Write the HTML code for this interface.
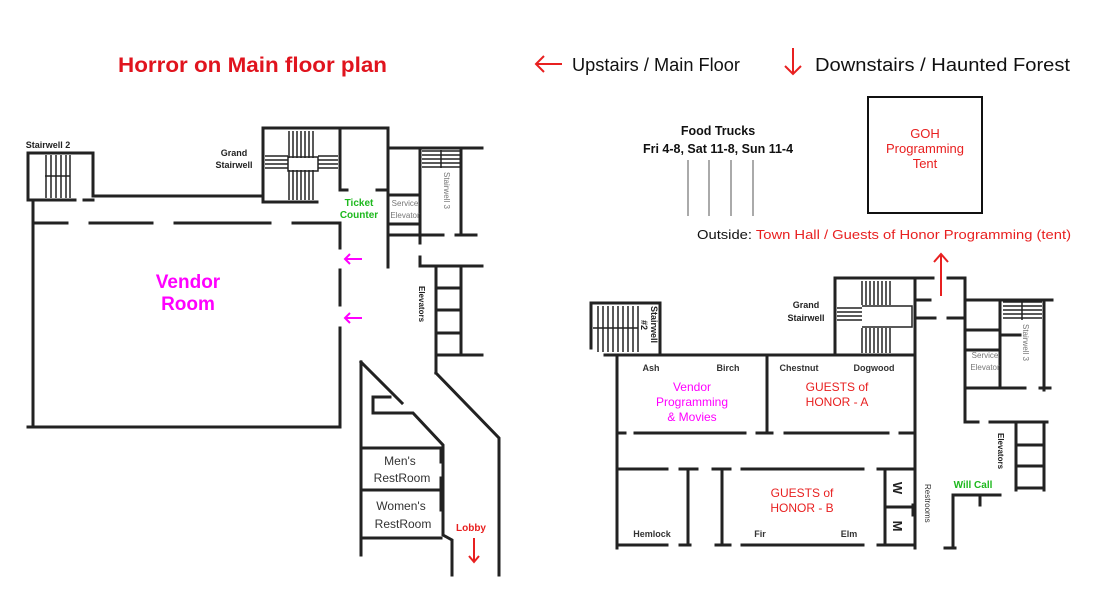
<!DOCTYPE html>
<html><head><meta charset="utf-8"><style>
html,body{margin:0;padding:0;background:#fff}
svg{display:block}
text{font-family:"Liberation Sans",sans-serif}
</style></head><body>
<svg width="1100" height="590" viewBox="0 0 1100 590" xmlns="http://www.w3.org/2000/svg">
<!-- header -->
<text x="118" y="72" font-size="21" font-weight="bold" fill="#e0141e" textLength="269" lengthAdjust="spacingAndGlyphs">Horror on Main floor plan</text>
<g stroke="#e82020" stroke-width="2" fill="none">
<path d="M536 64 H562 M544 56 L536 64 L544 72"/>
<path d="M793 48 V74 M785 66 L793 74 L801 66"/>
<path d="M941 296 V254 M934 262 L941 254 L948 262"/>
<path d="M474 538 V562 M469 556 L474 562 L479 556"/>
</g>
<text x="572" y="71" font-size="18" fill="#111" textLength="168" lengthAdjust="spacingAndGlyphs">Upstairs / Main Floor</text>
<text x="815" y="71" font-size="18" fill="#111" textLength="255" lengthAdjust="spacingAndGlyphs">Downstairs / Haunted Forest</text>
<text x="718" y="135" font-size="12.5" font-weight="bold" fill="#111" text-anchor="middle">Food Trucks</text>
<text x="718" y="153" font-size="12.5" font-weight="bold" fill="#111" text-anchor="middle">Fri 4-8, Sat 11-8, Sun 11-4</text>
<g stroke="#aaa" stroke-width="2"><path d="M688 160V216M709 160V216M731 160V216M753 160V216"/></g>
<rect x="868" y="97" width="114" height="116" fill="none" stroke="#111" stroke-width="2"/>
<text x="925" y="138" font-size="13" fill="#e82020" text-anchor="middle">GOH</text>
<text x="925" y="153" font-size="13" fill="#e82020" text-anchor="middle">Programming</text>
<text x="925" y="168" font-size="13" fill="#e82020" text-anchor="middle">Tent</text>
<text x="697" y="239" font-size="12.5" fill="#111" textLength="374" lengthAdjust="spacingAndGlyphs">Outside: <tspan fill="#e82020">Town Hall / Guests of Honor Programming (tent)</tspan></text>

<!-- LEFT PLAN -->
<g stroke="#222" stroke-width="3" fill="none" stroke-linecap="square">
<path d="M28 153 H93 V196 H263"/>
<path d="M28 153 V200 H75 M84 200 H93"/>
<path d="M33 200 V427 M28 427 H340"/>
<path d="M35 223 H67 M90 223 H152 M175 223 H270 M293 223 H340 V248 M340 270 V305 M340 328 V427"/>
<path d="M263 202 V128 H388 V267"/>
<path d="M340 128 V190 M340 190 H347 M377 190 H388 M263 202 H317"/>
<path d="M388 148 H482 M420 148 V243 M461 148 V235 M388 235 H443 M456 235 H476 M388 195 H420 M388 224 H420"/>
<path d="M420 257 V266 H482 M436 266 V373 M461 266 V353 M436 288 H461 M436 310 H461 M436 333 H461 M436 355 H482"/>
<path d="M436 373 L499 438 V575"/>
<path d="M361 362 V555 M361 362 L402 403 M373 397 V413 M373 397 H390 M373 413 H413 L443 445 V535 L452 540 V575"/>
<path d="M362 448 H441 M362 490 H441 M362 538 H441"/>
<path d="M441 450 V462 M441 478 V510"/>
</g>
<g stroke="#222" stroke-width="1.5" fill="none">
<path d="M46 155V198M51 155V198M56 155V198M61 155V198M66 155V198M70 155V198M45 176H70"/>
<path d="M289 131V158M293 131V158M297 131V158M301 131V158M305 131V158M309 131V158M313 131V158"/>
<path d="M289 170V200M293 170V200M297 170V200M301 170V200M305 170V200M309 170V200M313 170V200"/>
<path d="M265 156H288M265 160H288M265 164H288M265 168H288M318 156H338M318 160H338M318 164H338M318 168H338"/>
<path d="M288 157H318V171H288Z"/>
<path d="M422 151H460M422 155H460M422 159H460M422 163H460M422 167H460M441 150V168"/>
</g>
<text x="48" y="148" font-size="9" font-weight="bold" fill="#222" text-anchor="middle">Stairwell 2</text>
<text x="234" y="156" font-size="9" font-weight="bold" fill="#222" text-anchor="middle">Grand</text>
<text x="234" y="168" font-size="9" font-weight="bold" fill="#222" text-anchor="middle">Stairwell</text>
<text x="359" y="206" font-size="10" font-weight="bold" fill="#1db81d" text-anchor="middle">Ticket</text>
<text x="359" y="218" font-size="10" font-weight="bold" fill="#1db81d" text-anchor="middle">Counter</text>
<text x="405" y="206" font-size="8" fill="#777" text-anchor="middle">Service</text>
<text x="405" y="218" font-size="8" fill="#777" text-anchor="middle">Elevator</text>
<text x="0" y="0" font-size="8" fill="#777" transform="translate(444 172) rotate(90)">Stairwell 3</text>
<text x="0" y="0" font-size="8" font-weight="bold" fill="#222" transform="translate(419 286) rotate(90)">Elevators</text>
<text x="188" y="288" font-size="19" font-weight="bold" fill="#ff00ff" text-anchor="middle">Vendor</text>
<text x="188" y="310" font-size="19" font-weight="bold" fill="#ff00ff" text-anchor="middle">Room</text>
<g stroke="#ff00ff" stroke-width="2" fill="none">
<path d="M345 259H362M350 254L345 259L350 264"/>
<path d="M345 318H362M350 313L345 318L350 323"/>
</g>
<text x="400" y="465" font-size="12" fill="#333" text-anchor="middle">Men's</text>
<text x="402" y="482" font-size="12" fill="#333" text-anchor="middle">RestRoom</text>
<text x="401" y="510" font-size="12" fill="#333" text-anchor="middle">Women's</text>
<text x="403" y="528" font-size="12" fill="#333" text-anchor="middle">RestRoom</text>
<text x="471" y="531" font-size="10" font-weight="bold" fill="#e82020" text-anchor="middle">Lobby</text>

<!-- RIGHT PLAN -->
<g stroke="#222" stroke-width="3" fill="none" stroke-linecap="square">
<path d="M591 348 V303 H660 V355 M591 325 V338"/>
<path d="M605 355 H915 M617 355 V548"/>
<path d="M835 355 V278 H915 V355 M915 278 H933 M948 278 H965 V362 M915 318 H935 M948 318 H963 M915 300 H930 M915 340 V355"/>
<path d="M965 300 H1052 M1000 300 V388 M1044 300 V390 M965 388 H1025 M1040 388 H1050 M965 350 H1000 M965 330 H1000 M1000 335 H1020"/>
<path d="M965 362 V422 H978 M990 422 H1047 M1016 422 V490 M1044 422 V490 M1016 445 H1044 M1016 466 H1044 M1016 488 H1044"/>
<path d="M953 545 V495 H1000 M980 495 V505 M945 548 H955"/>
<path d="M767 355 V433 M620 433 H625 M635 433 H745 M757 433 H772 M785 433 H888 M900 433 H915"/>
<path d="M617 469 H667 M680 469 H697 M713 469 H730 M742 469 H863 M878 469 H915 M915 355 V548"/>
<path d="M688 469 V545 M722 469 V545"/>
<path d="M617 545 H667 M680 545 H690 M716 545 H730 M742 545 H863 M878 545 H915"/>
<path d="M885 470 V545 M885 507 H915 M913 505 V515"/>
</g>
<g stroke="#222" stroke-width="1.5" fill="none">
<path d="M598 306V352M603 306V352M608 306V352M613 306V352M618 306V352M623 306V352M628 306V352M633 306V352M638 306V352M593 328H638"/>
<path d="M862 281V305M866 281V305M870 281V305M874 281V305M878 281V305M882 281V305M886 281V305M890 281V305"/>
<path d="M862 328V353M866 328V353M870 328V353M874 328V353M878 328V353M882 328V353M886 328V353M890 328V353"/>
<path d="M837 308H862M837 312H862M837 316H862M837 320H862M862 306H912V327H862"/>
<path d="M1003 302H1042M1003 306H1042M1003 310H1042M1003 314H1042M1003 318H1042M1022 300V320"/>
</g>
<text x="0" y="0" font-size="9" font-weight="bold" fill="#222" transform="translate(651 306) rotate(90)">Stairwell</text>
<text x="0" y="0" font-size="9" font-weight="bold" fill="#222" transform="translate(641 320) rotate(90)">#2</text>
<text x="806" y="308" font-size="9" font-weight="bold" fill="#222" text-anchor="middle">Grand</text>
<text x="806" y="321" font-size="9" font-weight="bold" fill="#222" text-anchor="middle">Stairwell</text>
<text x="651" y="371" font-size="9" font-weight="bold" fill="#333" text-anchor="middle">Ash</text>
<text x="728" y="371" font-size="9" font-weight="bold" fill="#333" text-anchor="middle">Birch</text>
<text x="799" y="371" font-size="9" font-weight="bold" fill="#333" text-anchor="middle">Chestnut</text>
<text x="874" y="371" font-size="9" font-weight="bold" fill="#333" text-anchor="middle">Dogwood</text>
<text x="692" y="391" font-size="12" fill="#ff00ff" text-anchor="middle">Vendor</text>
<text x="692" y="406" font-size="12" fill="#ff00ff" text-anchor="middle">Programming</text>
<text x="692" y="421" font-size="12" fill="#ff00ff" text-anchor="middle">&amp; Movies</text>
<text x="837" y="391" font-size="12" fill="#e82020" text-anchor="middle">GUESTS of</text>
<text x="837" y="406" font-size="12" fill="#e82020" text-anchor="middle">HONOR - A</text>
<text x="802" y="497" font-size="12" fill="#e82020" text-anchor="middle">GUESTS of</text>
<text x="802" y="512" font-size="12" fill="#e82020" text-anchor="middle">HONOR - B</text>
<text x="652" y="537" font-size="9" font-weight="bold" fill="#333" text-anchor="middle">Hemlock</text>
<text x="760" y="537" font-size="9" font-weight="bold" fill="#333" text-anchor="middle">Fir</text>
<text x="849" y="537" font-size="9" font-weight="bold" fill="#333" text-anchor="middle">Elm</text>
<text x="0" y="0" font-size="13" font-weight="bold" fill="#222" transform="translate(893 488) rotate(90)" text-anchor="middle">W</text>
<text x="0" y="0" font-size="13" font-weight="bold" fill="#222" transform="translate(893 526) rotate(90)" text-anchor="middle">M</text>
<text x="0" y="0" font-size="8" fill="#333" transform="translate(925 484) rotate(90)">Restrooms</text>
<text x="985" y="358" font-size="8" fill="#777" text-anchor="middle">Service</text>
<text x="985" y="370" font-size="8" fill="#777" text-anchor="middle">Elevator</text>
<text x="0" y="0" font-size="8" fill="#777" transform="translate(1023 324) rotate(90)">Stairwell 3</text>
<text x="0" y="0" font-size="8" font-weight="bold" fill="#222" transform="translate(998 433) rotate(90)">Elevators</text>
<text x="973" y="488" font-size="10" font-weight="bold" fill="#1db81d" text-anchor="middle">Will Call</text>
</svg>
</body></html>
